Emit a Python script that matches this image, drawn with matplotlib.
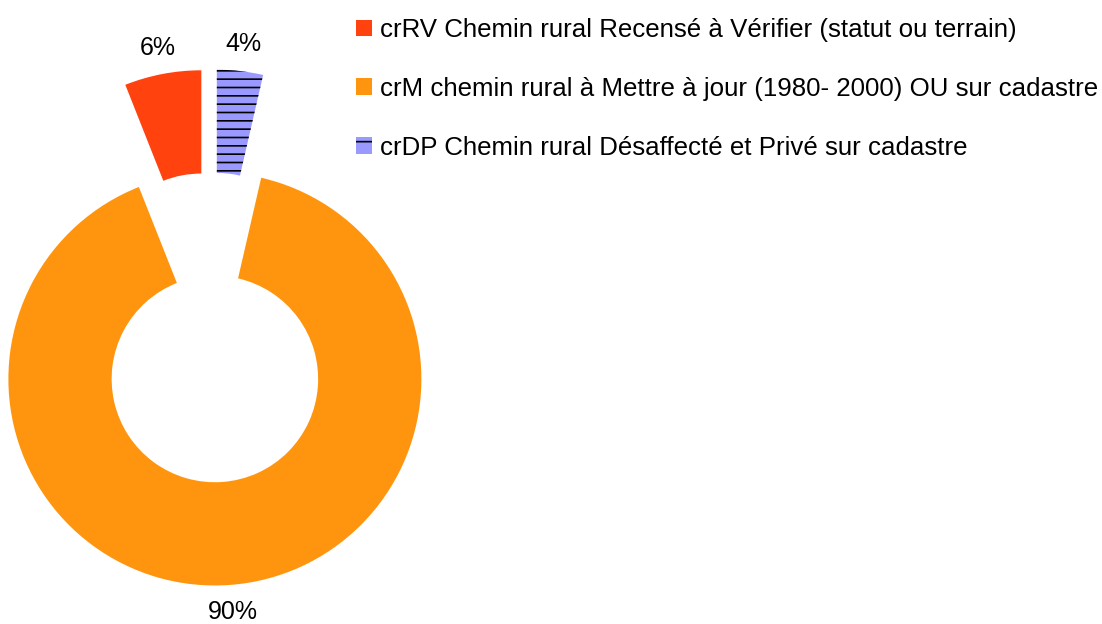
import matplotlib
matplotlib.use("Agg")
from matplotlib import pyplot as plt
from matplotlib.patches import Patch

# data
labels = ["crRV Chemin rural Recensé à Vérifier (statut ou terrain)",
          "crM chemin rural à Mettre à jour (1980- 2000) OU sur cadastre",
          "crDP Chemin rural Désaffecté et Privé sur cadastre"]
values = [6.0, 90.4, 3.6]
colors = ["#FF420E", "#FF950E", "#9999FF"]

plt.rcParams['font.family'] = ['Liberation Sans', 'DejaVu Sans']
plt.rcParams['hatch.linewidth'] = 1.2

fig = plt.figure(figsize=(11.02, 6.24), dpi=100)
ax = fig.add_axes([0, 0, 1, 1])

wedges, texts, autotexts = ax.pie(values, colors=colors, startangle=90,
                                  explode=[0.25, 0.25, 0.25],
                                  autopct='%.0f%%', pctdistance=1.13,
                                  wedgeprops=dict(width=0.5, linewidth=0),
                                  textprops=dict(fontsize=18, color='black'))
# horizontal lines on the last slice
wedges[2].set_hatch('--')
wedges[2].set_edgecolor('black')
wedges[2].set_linewidth(0)

# place the donut like the original (R ~ 206 px)
ax.set_xlim(-1.0218, 4.3148)
ax.set_ylim(-1.4358, 1.5860)
ax.set_aspect('auto')
ax.axis('off')

# legend keys (only one line in the hatched key)
handles = [Patch(facecolor=colors[0], linewidth=0),
           Patch(facecolor=colors[1], linewidth=0),
           Patch(facecolor=colors[2], edgecolor='black', linewidth=0, hatch='-')]
fig.legend(handles, labels, loc='upper left', bbox_to_anchor=(356 / 1102, 1 - 18 / 624),
           frameon=False, fontsize=18.6, handlelength=0.61, handleheight=0.61,
           handletextpad=0.31, labelspacing=1.35, borderpad=0, borderaxespad=0)

plt.savefig('out.png')
